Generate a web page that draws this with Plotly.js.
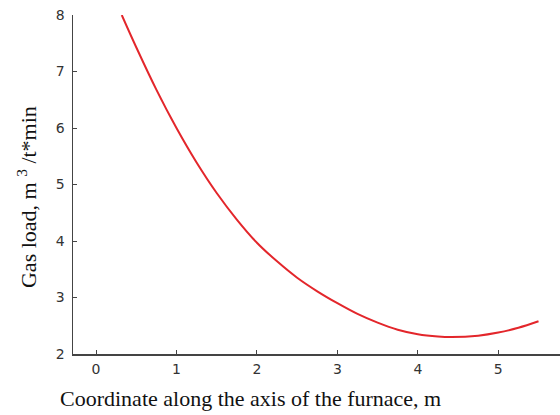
<!DOCTYPE html>
<html>
<head>
<meta charset="utf-8">
<script src="https://cdn.plot.ly/plotly-3.0.1.min.js"></script>
<style>html,body{margin:0;padding:0;background:#fff;}#chart{width:560px;height:415px;}</style>
</head>
<body>
<div id="chart"></div>
<script>
const coordinate = [0.32, 0.5, 0.75, 1.0, 1.25, 1.5, 1.75, 2.0, 2.25, 2.5, 2.75, 3.0, 3.25, 3.5, 3.75, 4.0, 4.25, 4.42, 4.75, 5.0, 5.25, 5.5];
const gasLoad = [8.0, 7.43, 6.68, 6.0, 5.39, 4.85, 4.38, 3.97, 3.64, 3.35, 3.11, 2.90, 2.71, 2.555, 2.43, 2.35, 2.31, 2.30, 2.325, 2.38, 2.465, 2.58];
const xTicks = [0, 1, 2, 3, 4, 5];
const yTicks = [2, 3, 4, 5, 6, 7, 8];

const trace = {
  x: coordinate, y: gasLoad, type: 'scatter', mode: 'lines',
  line: {color: '#e3262b', width: 2, shape: 'spline', smoothing: 1},
  hoverinfo: 'skip'
};
const axisCommon = {
  showline: true, linecolor: '#444', linewidth: 1.5,
  ticks: 'inside', ticklen: 4, tickwidth: 1, tickcolor: '#444',
  showgrid: false, zeroline: false,
  tickfont: {family: 'DejaVu Sans, sans-serif', size: 14, color: '#333'}
};
const serif = 'Liberation Serif, Times New Roman, serif';
const layout = {
  width: 560, height: 415,
  margin: {l: 73, r: 0, t: 15, b: 61},
  paper_bgcolor: '#fff', plot_bgcolor: '#fff',
  showlegend: false,
  xaxis: Object.assign({}, axisCommon, {
    range: [-0.286, 5.767], tickvals: xTicks, ticktext: xTicks.map(String),
    ticklabelstandoff: 2
  }),
  yaxis: Object.assign({}, axisCommon, {
    range: [2, 8], tickvals: yTicks, ticktext: yTicks.map(String),
    ticklabelstandoff: 4
  }),
  annotations: [{
    text: 'Coordinate along the axis of the furnace, m',
    xref: 'paper', yref: 'paper', x: 0.3655, y: -0.13,
    xanchor: 'center', yanchor: 'middle', showarrow: false,
    font: {family: serif, size: 22, color: '#111'}
  }, {
    text: 'Gas load, m <sup>3</sup> /t*min',
    xref: 'paper', yref: 'paper', x: -0.0945, y: 0.463, textangle: -90,
    xanchor: 'center', yanchor: 'middle', showarrow: false,
    font: {family: serif, size: 22, color: '#111'}
  }]
};
Plotly.newPlot('chart', [trace], layout, {displayModeBar: false, staticPlot: true});
</script>
</body>
</html>
